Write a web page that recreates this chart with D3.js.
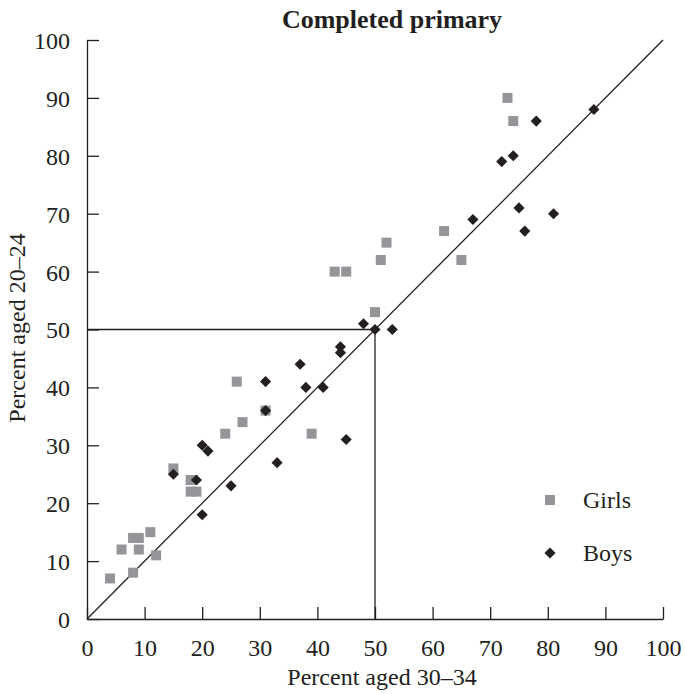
<!DOCTYPE html>
<html>
<head>
<meta charset="utf-8">
<script src="https://cdn.jsdelivr.net/npm/d3@7"></script>
<style>
  body { margin: 0; background: #fff; }
  svg text { font-family: "Liberation Serif", "Times New Roman", serif; fill: #231f20; }
</style>
</head>
<body>
<script>
// Girls: [percent aged 30-34, percent aged 20-24]
const girls = [
  [4, 7], [6, 12], [8, 8], [8, 14], [9, 14], [9, 12], [11, 15], [12, 11],
  [15, 26], [18, 24], [18, 22], [19, 22], [24, 32], [26, 41], [27, 34],
  [31, 36], [39, 32], [43, 60], [45, 60], [50, 53], [51, 62], [52, 65],
  [62, 67], [65, 62], [73, 90], [74, 86]
];
const boys = [
  [15, 25], [19, 24], [20, 30], [21, 29], [20, 18], [25, 23], [31, 36],
  [31, 41], [33, 27], [37, 44], [38, 40], [41, 40], [44, 47], [44, 46],
  [45, 31], [48, 51], [50, 50], [53, 50], [67, 69], [72, 79], [74, 80],
  [75, 71], [76, 67], [78, 86], [81, 70], [88, 88]
];
const ticks = [0, 10, 20, 30, 40, 50, 60, 70, 80, 90, 100];

const width = 685, height = 694;
const margin = {left: 87, right: 22, top: 40, bottom: 75};
const ink = "#231f20";

const svg = d3.select("body").append("svg")
  .attr("width", width).attr("height", height);

const x = d3.scaleLinear().domain([0, 100]).range([margin.left, width - margin.right]);
const y = d3.scaleLinear().domain([0, 100]).range([height - margin.bottom, margin.top]);

// axes, ticks pointing inward
const xAxis = svg.append("g")
  .attr("transform", `translate(0,${y(0)})`)
  .call(d3.axisBottom(x).tickValues(ticks).tickSizeInner(-12).tickSizeOuter(0).tickPadding(20));
const yAxis = svg.append("g")
  .attr("transform", `translate(${x(0)},0)`)
  .call(d3.axisLeft(y).tickValues(ticks).tickSizeInner(-12).tickSizeOuter(0).tickPadding(17));

[xAxis, yAxis].forEach(g => {
  g.attr("font-family", null);
  g.select(".domain").attr("stroke", ink).attr("stroke-width", 1.3);
  g.selectAll(".tick line").attr("stroke", ink).attr("stroke-width", 1.3);
  g.selectAll(".tick text").attr("font-size", 24).attr("fill", ink);
});
xAxis.selectAll(".tick text").attr("dy", "0.71em");
yAxis.selectAll(".tick text").attr("dy", "0.35em");

// 45 degree line and reference lines at 50
svg.append("line")
  .attr("x1", x(0)).attr("y1", y(0)).attr("x2", x(100)).attr("y2", y(100))
  .attr("stroke", ink).attr("stroke-width", 1.3);
svg.append("path")
  .attr("d", `M${x(0)},${y(50)}H${x(50)}V${y(0)}`)
  .attr("fill", "none").attr("stroke", ink).attr("stroke-width", 1.3);

const sq = d3.symbol().type(d3.symbolSquare).size(100);
const di = d3.symbol().type(d3.symbolSquare).size(62); // rotated 45deg below

svg.append("g").selectAll("path")
  .data(girls).enter().append("path")
  .attr("d", sq)
  .attr("transform", d => `translate(${x(d[0])},${y(d[1])})`)
  .attr("fill", "#939598");

svg.append("g").selectAll("path")
  .data(boys).enter().append("path")
  .attr("d", di)
  .attr("transform", d => `translate(${x(d[0])},${y(d[1])}) rotate(45)`)
  .attr("fill", ink);

// legend
svg.append("path").attr("d", sq)
  .attr("transform", "translate(550,500)").attr("fill", "#939598");
svg.append("text").attr("x", 583).attr("y", 508).attr("font-size", 24).text("Girls");
svg.append("path").attr("d", di)
  .attr("transform", "translate(550,553) rotate(45)").attr("fill", ink);
svg.append("text").attr("x", 583).attr("y", 561).attr("font-size", 24).text("Boys");

// titles
svg.append("text").attr("x", 392).attr("y", 28).attr("text-anchor", "middle")
  .attr("font-size", 26).attr("font-weight", "bold").text("Completed primary");
svg.append("text").attr("x", 382).attr("y", 685).attr("text-anchor", "middle")
  .attr("font-size", 24).text("Percent aged 30–34");
svg.append("text").attr("transform", "translate(25,328) rotate(-90)")
  .attr("text-anchor", "middle").attr("font-size", 24).text("Percent aged 20–24");
</script>
</body>
</html>
